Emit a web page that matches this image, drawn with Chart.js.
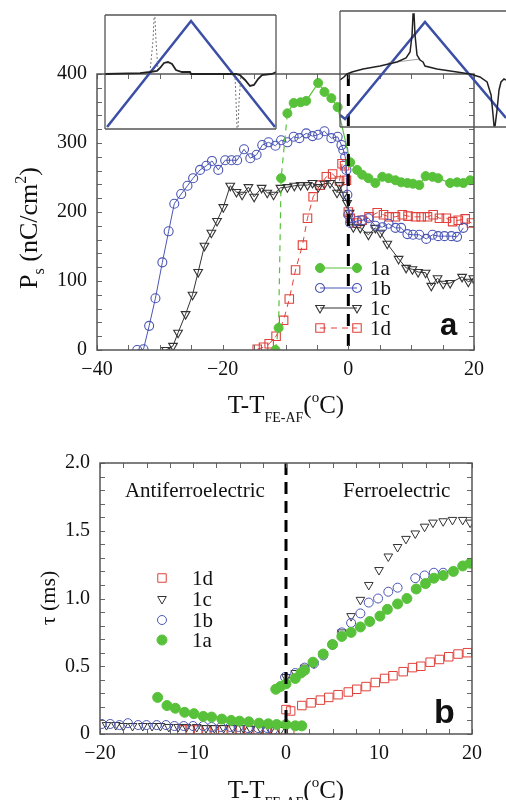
<!DOCTYPE html>
<html>
<head>
<meta charset="utf-8">
<script src="https://cdn.jsdelivr.net/npm/chart.js@4.4.1/dist/chart.umd.min.js"></script>
<style>
  body { margin: 0; background: #fff; }
  #wrap { position: relative; width: 506px; height: 800px; overflow: hidden; }
  canvas { position: absolute; }
</style>
</head>
<body>
<div id="wrap">
  <canvas id="chartA" width="506" height="430" style="left:0;top:0"></canvas>
  <canvas id="chartB" width="506" height="370" style="left:0;top:430px"></canvas>
  <canvas id="insetL" width="175" height="118" style="left:103px;top:13px"></canvas>
  <canvas id="insetR" width="168" height="120" style="left:338px;top:9px"></canvas>
</div>
<script>
const SERIF = "'Liberation Serif', 'Times New Roman', serif";
const SANS = "'Liberation Sans', Arial, sans-serif";
const GREEN = '#58c13a', BLUE = '#4a55b5', BLACK = '#333333', RED = '#e0413a', LOOP = '#3b4fa6';

// ---- panel a : Ps (nC/cm2) vs T - T_FE-AF
const t1a = [-11.6,-11.1,-10.7,-9.7,-8.7,-7.6,-6.7,-4.8,-3.8,-2.7,-1.7,0.3,1.4,2.2,3.2,4.3,5.4,6.4,7.5,8.4,9.4,10.3,11.3,12.3,13.4,14.3,16.2,17.3,18.3,19.4];
const ps1a = [0,32,249,343,358,359,361,387,374,365,352,272,261,254,249,242,251,249,246,243,242,241,239,252,251,249,242,243,242,246];

const t1b = [-33.6,-32.6,-31.7,-30.7,-29.6,-28.6,-27.7,-26.6,-25.6,-24.7,-23.6,-22.6,-21.7,-20.7,-19.6,-18.6,-17.7,-16.6,-15.6,-14.6,-13.7,-12.7,-11.6,-10.7,-9.7,-8.7,-7.8,-6.7,-5.7,-4.8,-3.8,-2.7,-1.7,-1.1,-0.8,-0.5,-0.3,-0.15,0,0.3,1.4,2.2,3.2,4.3,5.4,6.4,7.5,8.4,9.4,10.3,11.3,12.4,13.4,14.3,15.3,16.4,17.3,18.3];
const ps1b = [0,1,35,75,127,172,212,226,238,249,261,267,274,261,275,275,275,291,278,283,297,301,296,304,301,309,307,314,310,312,317,307,309,297,290,280,261,225,196,184,187,188,191,180,178,183,177,177,168,167,167,161,167,165,165,165,164,177];

const t1c = [-29.0,-27.9,-27.1,-25.9,-24.8,-23.9,-22.9,-21.8,-20.9,-19.9,-18.8,-17.8,-16.9,-15.9,-15.0,-13.8,-12.9,-11.9,-10.8,-9.7,-8.6,-7.6,-6.5,-5.7,-4.8,-3.8,-2.9,-1.8,-1.4,-0.8,-0.2,0.2,0.8,1.9,3.2,4.3,5.1,6.2,8.0,9.2,10.2,11.1,12.3,13.2,14.2,15.1,16.2,18.1,19.1,19.9];
const ps1c = [0,6,25,52,80,113,151,170,187,207,238,229,225,236,222,235,228,225,235,236,238,239,239,242,236,241,242,228,239,225,213,199,178,177,167,177,170,154,132,119,117,113,112,93,104,96,97,106,99,104];

const t1d = [-14.5,-13.5,-12.6,-11.5,-10.3,-9.4,-8.4,-7.3,-6.5,-5.6,-4.5,-3.5,-2.5,-1.4,-1.0,-0.6,-0.3,0.0,0.3,1.3,2.2,3.3,4.6,5.6,6.5,7.5,8.6,9.5,10.7,11.6,12.6,13.5,14.5,15.6,16.6,17.5,18.6,19.6];
const ps1d = [1,4,9,20,43,74,116,152,191,222,239,251,255,245,270,267,246,200,191,184,188,193,199,196,193,193,196,194,193,193,193,196,191,191,186,188,190,184];

// ---- panel b : tau (ms) vs T - T_FE-AF
const tb1a = [-13.8,-12.8,-11.9,-10.9,-9.9,-8.9,-8.0,-6.9,-5.9,-5.0,-4.0,-2.9,-1.9,-1.0,0.0,1.0,1.7,
  -1.1,-0.6,0.0,1.0,1.6,2.0,2.9,4.0,5.0,6.0,7.0,8.0,9.0,10.1,10.9,12.0,13.0,14.0,15.0,15.9,16.9,18.0,19.0,19.8];
const tau1a = [0.27,0.21,0.19,0.16,0.15,0.13,0.125,0.11,0.10,0.095,0.09,0.08,0.075,0.07,0.07,0.06,0.06,
  0.33,0.35,0.37,0.41,0.45,0.47,0.53,0.59,0.66,0.72,0.75,0.79,0.83,0.87,0.92,0.96,1.00,1.07,1.11,1.15,1.17,1.20,1.24,1.26];

const tb1b = [-19.8,-18.9,-17.9,-17.0,-15.9,-15.0,-13.9,-12.9,-12.0,-11.0,-10.0,-8.9,-8.0,-7.0,-6.0,-5.1,-4.1,-3.0,-2.0,-1.4,
  -0.1,1.0,2.0,3.0,4.0,5.0,6.0,7.0,8.0,8.9,9.9,11.0,12.0,13.9,14.9,15.9,16.9];
const tau1b = [0.074,0.074,0.066,0.08,0.066,0.066,0.066,0.066,0.059,0.059,0.059,0.059,0.052,0.052,0.052,0.052,0.044,0.044,0.044,0.03,
  0.42,0.45,0.49,0.52,0.58,0.66,0.75,0.82,0.89,0.97,1.00,1.05,1.08,1.15,1.17,1.19,1.19];

const tb1c = [-19.3,-18.3,-17.5,-16.5,-15.4,-14.4,-13.5,-12.6,-11.6,-10.7,-9.6,-8.6,-7.7,-6.7,-5.7,-4.6,-3.8,-2.7,-1.7,-0.6,
  0.0,1.0,2.0,3.0,4.0,5.0,6.0,7.0,8.0,8.9,10.0,11.0,12.0,12.9,13.9,14.9,15.8,16.9,17.9,19.0,19.8];
const tau1c = [0.066,0.066,0.059,0.059,0.059,0.059,0.059,0.052,0.052,0.052,0.052,0.044,0.044,0.044,0.044,0.044,0.037,0.037,0.03,0.03,
  0.42,0.45,0.49,0.52,0.59,0.66,0.75,0.87,0.99,1.10,1.21,1.31,1.38,1.44,1.48,1.53,1.56,1.57,1.58,1.58,1.56];

const tb1d = [-11.2,-10.3,-9.5,-8.5,-7.7,-6.8,-5.8,-5.0,-4.0,-3.0,-2.0,-1.2,-0.3,0.4,
  0.0,0.5,1.7,2.7,3.7,4.6,5.6,6.7,7.6,8.6,9.6,10.6,11.5,12.6,13.6,14.5,15.5,16.5,17.5,18.5,19.5];
const tau1d = [0.03,0.03,0.03,0.03,0.03,0.03,0.03,0.03,0.03,0.03,0.03,0.03,0.03,0.03,
  0.18,0.17,0.21,0.23,0.25,0.27,0.29,0.31,0.33,0.35,0.38,0.41,0.43,0.46,0.49,0.50,0.53,0.55,0.57,0.59,0.60];

const seriesNames = ['1a', '1b', '1c', '1d'];
const phaseNames = ['Antiferroelectric', 'Ferroelectric'];
const phaseAt = [-9.8, 11.9];

// ---- insets: field loop (blue) and switching current (black), arbitrary units
const loopLx = [0.012, 0.503, 0.994];
const loopLy = [-0.965, 0.895, -0.965];
const curLx = [0,0.205,0.263,0.304,0.322,0.345,0.368,0.392,0.415,0.45,0.497,0.503,0.766,0.789,0.819,0.848,0.871,0.895,0.918,0.977,1.0];
const curLy = [-0.035,-0.018,0,0.018,0.07,0.158,0.175,0.14,0.035,0,0,-0.035,-0.035,-0.053,-0.14,-0.245,-0.228,-0.123,-0.053,-0.035,0];
const spkLx = [0.263,0.281,0.287,0.292,0.298,0.31, null, 0.76,0.766,0.772,0.778,0.784,0.795];
const spkLy = [0,0.561,0.965,0.965,0.561,0.018, null, -0.035,-0.49,-0.982,-0.982,-0.49,-0.07];

const loopRx = [0, 0.03, 0.512, 1.0];
const loopRy = [-0.793, -0.862, 0.81, -0.845];
const curRx = [0,0.024,0.042,0.072,0.139,0.241,0.343,0.398,0.422,0.434,0.44,0.446,0.452,0.464,0.482,0.5,0.512,0.584,0.705,0.783,0.843,0.886,0.91,0.922,0.928,0.934,0.946,0.958,0.97,0.988,1.0];
const curRy = [-0.19,-0.138,-0.086,-0.052,0,0.052,0.121,0.19,0.293,0.586,0.948,0.948,0.586,0.241,0.155,0.121,0.052,0,-0.052,-0.086,-0.138,-0.224,-0.448,-0.793,-0.983,-0.983,-0.707,-0.362,-0.224,-0.172,-0.19];
const baseRx = [0.289, 0.482];
const baseRy = [0.103, 0.172];

const pts = (xs, ys) => xs.map((x, i) => (x === null ? {x: null, y: null} : {x, y: ys[i]}));

function minusFmt(v) { return v < 0 ? '\u2212' + Math.abs(v) : String(v); }

function marker(ctx, ds, x, y) {
  const r = ds.pointRadius;
  ctx.save();
  ctx.translate(x, y);
  ctx.lineWidth = ds.pointBorderWidth;
  ctx.strokeStyle = ds.pointBorderColor;
  ctx.fillStyle = ds.pointBackgroundColor;
  ctx.beginPath();
  if (ds.pointStyle === 'rect') {
    const s = r * Math.SQRT1_2;
    ctx.rect(-s, -s, 2 * s, 2 * s);
  } else if (ds.pointStyle === 'triangle') {
    ctx.moveTo(0, r); ctx.lineTo(-r * 0.866, -r * 0.5); ctx.lineTo(r * 0.866, -r * 0.5); ctx.closePath();
  } else {
    ctx.arc(0, 0, r, 0, Math.PI * 2);
  }
  ctx.fill(); ctx.stroke();
  ctx.restore();
}

// text with sub / superscripts, centred on cx, baseline at cy
function richText(ctx, parts, cx, cy, rot) {
  ctx.save();
  ctx.translate(cx, cy);
  if (rot) ctx.rotate(rot);
  ctx.fillStyle = '#111';
  ctx.textAlign = 'left';
  ctx.textBaseline = 'alphabetic';
  let w = 0;
  parts.forEach(p => { ctx.font = p[1] + 'px ' + SERIF; p.w = ctx.measureText(p[0]).width; w += p.w; });
  let xx = -w / 2;
  parts.forEach(p => { ctx.font = p[1] + 'px ' + SERIF; ctx.fillText(p[0], xx, p[2] || 0); xx += p.w; });
  ctx.restore();
}

function xTitle() {
  return [['T-T', 25], ['FE-AF', 14, 9], ['(', 25], ['o', 15, -11], ['C)', 25]];
}

function drawFrame(chart, xStep, yStep) {
  const {ctx, chartArea: a, scales: {x, y}} = chart;
  ctx.save();
  ctx.strokeStyle = '#666';
  ctx.lineWidth = 1;
  ctx.beginPath();
  for (let v = x.min; v <= x.max + 1e-9; v += xStep) {
    const px = Math.round(x.getPixelForValue(v)) + 0.5;
    ctx.moveTo(px, a.bottom); ctx.lineTo(px, a.bottom - 5);
    ctx.moveTo(px, a.top); ctx.lineTo(px, a.top + 5);
  }
  for (let v = y.min; v <= y.max + 1e-9; v += yStep) {
    const py = Math.round(y.getPixelForValue(v)) + 0.5;
    ctx.moveTo(a.left, py); ctx.lineTo(a.left + 5, py);
    ctx.moveTo(a.right, py); ctx.lineTo(a.right - 5, py);
  }
  ctx.stroke();
  ctx.strokeStyle = '#555';
  ctx.lineWidth = 1.5;
  ctx.strokeRect(a.left, a.top, a.right - a.left, a.bottom - a.top);
  ctx.restore();
}

const panelA = {
  id: 'panelA',
  beforeDatasetsDraw(chart) {
    const ctx = chart.ctx;
    const rows = [268, 288, 308, 328];
    chart.data.datasets.slice(1).forEach((ds, i) => {
      const y = rows[i];
      ctx.save();
      ctx.strokeStyle = ds.borderColor;
      ctx.lineWidth = ds.borderWidth;
      ctx.setLineDash(ds.borderDash || []);
      ctx.beginPath(); ctx.moveTo(320, y); ctx.lineTo(357, y); ctx.stroke();
      ctx.restore();
      marker(ctx, ds, 320, y);
      marker(ctx, ds, 357, y);
      ctx.save();
      ctx.font = '21px ' + SERIF;
      ctx.fillStyle = '#111';
      ctx.textBaseline = 'middle';
      ctx.fillText(ds.label, 370, y + 1);
      ctx.restore();
    });
  },
  afterDatasetsDraw(chart) {
    const ctx = chart.ctx;
    drawFrame(chart, 5, 20);
    richText(ctx, xTitle(), 286, 413);
    richText(ctx, [['P', 26], ['s', 16, 7], [' (nC/cm', 26], ['2', 16, -11], [')', 26]], 37, 228, -Math.PI / 2);
    ctx.save();
    ctx.font = 'bold 31px ' + SANS;
    ctx.fillStyle = '#111';
    ctx.fillText('a', 440, 335);
    ctx.restore();
  }
};

const panelB = {
  id: 'panelB',
  afterDatasetsDraw(chart) {
    const ctx = chart.ctx;
    const {x, y} = chart.scales;
    drawFrame(chart, 2.5, 0.1);
    ctx.save();
    ctx.font = '21px ' + SERIF;
    ctx.fillStyle = '#111';
    ctx.textAlign = 'center';
    phaseNames.forEach((s, i) => ctx.fillText(s, x.getPixelForValue(phaseAt[i]), y.getPixelForValue(1.75)));
    ctx.restore();
    const rows = [148, 169, 190, 210];
    chart.data.datasets.slice(1).reverse().forEach((ds, i) => {
      marker(ctx, ds, 162, rows[i]);
      ctx.save();
      ctx.font = '21px ' + SERIF;
      ctx.fillStyle = '#111';
      ctx.textBaseline = 'middle';
      ctx.fillText(ds.label, 192, rows[i] + 1);
      ctx.restore();
    });
    richText(ctx, xTitle(), 286, 368);
    richText(ctx, [['\u03c4 (ms)', 22]], 55, 168, -Math.PI / 2);
    ctx.save();
    ctx.font = 'bold 34px ' + SANS;
    ctx.fillStyle = '#111';
    ctx.fillText('b', 434, 293);
    ctx.restore();
  }
};

const tickFont = { family: SERIF, size: 20 };

function mainScales(xr, yr, xStep, yStep, yFmt, yWidth, xHeight) {
  return {
    x: {
      type: 'linear', min: xr[0], max: xr[1],
      ticks: { stepSize: xStep, font: tickFont, color: '#111', padding: 8, maxRotation: 0, autoSkip: false, callback: minusFmt },
      grid: { display: false, drawTicks: false }, border: { display: false },
      afterFit: s => { s.height = xHeight; }
    },
    y: {
      min: yr[0], max: yr[1],
      ticks: { stepSize: yStep, font: tickFont, color: '#111', padding: 10, autoSkip: false, callback: yFmt },
      grid: { display: false, drawTicks: false }, border: { display: false },
      afterFit: s => { s.width = yWidth; }
    }
  };
}

const common = {
  responsive: false, animation: false, events: [],
  plugins: { legend: { display: false }, tooltip: { enabled: false } }
};

new Chart(document.getElementById('chartA'), {
  type: 'line',
  data: {
    datasets: [
      { data: [{x: 0, y: 400}, {x: 0, y: 0}], borderColor: '#000', borderWidth: 3, borderDash: [12, 8], pointRadius: 0 },
      { label: seriesNames[0], data: pts(t1a, ps1a), borderColor: GREEN, borderWidth: 1.2,
        pointStyle: 'circle', pointRadius: 4.5, pointBackgroundColor: GREEN, pointBorderColor: GREEN, pointBorderWidth: 1,
        segment: { borderDash: c => (c.p1DataIndex <= 3 ? [6, 5] : undefined) } },
      { label: seriesNames[1], data: pts(t1b, ps1b), borderColor: BLUE, borderWidth: 1,
        pointStyle: 'circle', pointRadius: 4.5, pointBackgroundColor: 'rgba(255,255,255,0)', pointBorderColor: BLUE, pointBorderWidth: 1.1 },
      { label: seriesNames[2], data: pts(t1c, ps1c), borderColor: BLACK, borderWidth: 1,
        pointStyle: 'triangle', pointRotation: 180, pointRadius: 5, pointBackgroundColor: 'rgba(255,255,255,0)', pointBorderColor: BLACK, pointBorderWidth: 1.1 },
      { label: seriesNames[3], data: pts(t1d, ps1d), borderColor: RED, borderWidth: 1, borderDash: [6, 5],
        pointStyle: 'rect', pointRadius: 6, pointBackgroundColor: 'rgba(255,255,255,0)', pointBorderColor: RED, pointBorderWidth: 1.1 }
    ]
  },
  options: Object.assign({}, common, {
    layout: { padding: { left: 0, right: 32, top: 74, bottom: 0 } },
    scales: mainScales([-40, 20], [0, 400], 20, 100, v => String(v), 97, 80)
  }),
  plugins: [panelA]
});

new Chart(document.getElementById('chartB'), {
  type: 'line',
  data: {
    datasets: [
      { data: [{x: 0, y: 2}, {x: 0, y: 0}], borderColor: '#000', borderWidth: 3, borderDash: [12, 7], pointRadius: 0 },
      { label: seriesNames[0], data: pts(tb1a, tau1a), showLine: false,
        pointStyle: 'circle', pointRadius: 5, pointBackgroundColor: GREEN, pointBorderColor: GREEN, pointBorderWidth: 1 },
      { label: seriesNames[1], data: pts(tb1b, tau1b), showLine: false,
        pointStyle: 'circle', pointRadius: 4.5, pointBackgroundColor: 'rgba(255,255,255,0)', pointBorderColor: BLUE, pointBorderWidth: 1 },
      { label: seriesNames[2], data: pts(tb1c, tau1c), showLine: false,
        pointStyle: 'triangle', pointRotation: 180, pointRadius: 5, pointBackgroundColor: 'rgba(255,255,255,0)', pointBorderColor: BLACK, pointBorderWidth: 1 },
      { label: seriesNames[3], data: pts(tb1d, tau1d), showLine: false,
        pointStyle: 'rect', pointRadius: 6, pointBackgroundColor: 'rgba(255,255,255,0)', pointBorderColor: RED, pointBorderWidth: 1 }
    ]
  },
  options: Object.assign({}, common, {
    layout: { padding: { left: 0, right: 34, top: 33, bottom: 0 } },
    scales: mainScales([-20, 20], [0, 2], 10, 0.5, v => (v === 0 ? '0' : v.toFixed(1)), 100, 66)
  }),
  plugins: [panelB]
});

function insetBox(sides) {
  return {
    id: 'insetBox',
    afterDatasetsDraw(chart) {
      const {ctx, chartArea: a} = chart;
      ctx.save();
      ctx.strokeStyle = '#555';
      ctx.lineWidth = 1.3;
      ctx.beginPath();
      if (sides.includes('t')) { ctx.moveTo(a.left, a.top); ctx.lineTo(a.right, a.top); }
      if (sides.includes('l')) { ctx.moveTo(a.left, a.top); ctx.lineTo(a.left, a.bottom); }
      if (sides.includes('b')) { ctx.moveTo(a.left, a.bottom); ctx.lineTo(a.right, a.bottom); }
      if (sides.includes('r')) { ctx.moveTo(a.right, a.top); ctx.lineTo(a.right, a.bottom); }
      ctx.stroke();
      ctx.restore();
    }
  };
}

function inset(id, datasets, pad, sides) {
  new Chart(document.getElementById(id), {
    type: 'line',
    data: { datasets },
    options: Object.assign({}, common, {
      layout: { padding: pad },
      elements: { point: { radius: 0 }, line: { tension: 0 } },
      spanGaps: false,
      scales: {
        x: { type: 'linear', min: 0, max: 1, display: false },
        y: { min: -1, max: 1, display: false }
      }
    }),
    plugins: [insetBox(sides)]
  });
}

inset('insetL', [
  { data: pts(curLx, curLy), borderColor: '#222', borderWidth: 1.8 },
  { data: pts(spkLx, spkLy), borderColor: '#777', borderWidth: 1, borderDash: [2, 2] },
  { data: pts(loopLx, loopLy), borderColor: LOOP, borderWidth: 2.5 }
], { left: 2, right: 2, top: 2, bottom: 2 }, 'tlbr');

inset('insetR', [
  { data: pts(curRx, curRy), borderColor: '#222', borderWidth: 1.5 },
  { data: pts(baseRx, baseRy), borderColor: '#888', borderWidth: 0.8 },
  { data: pts(loopRx, loopRy), borderColor: LOOP, borderWidth: 2.5 }
], { left: 2, right: 0, top: 2, bottom: 2 }, 'tlb');
</script>
</body>
</html>
